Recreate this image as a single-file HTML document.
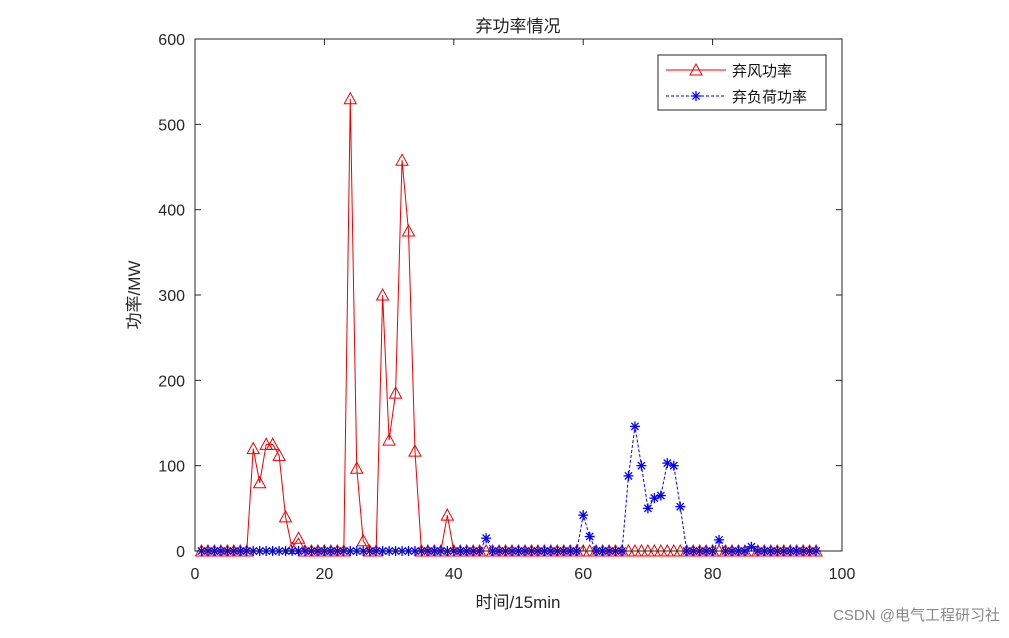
<!DOCTYPE html>
<html><head><meta charset="utf-8"><style>
body{margin:0;background:#fff}
svg text{font-family:"Liberation Sans","Noto Sans CJK SC",sans-serif}
</style></head><body>
<svg id="s" width="1009" height="633" xmlns="http://www.w3.org/2000/svg">
<rect width="1009" height="633" fill="#fff"/>
<g id="plot"></g>
<rect x="195" y="39" width="647" height="512" fill="none" stroke="#262626" stroke-width="1"/>
<g id="ticks" font-size="16" fill="#262626"></g>
<text x="518" y="32" font-size="17" text-anchor="middle" fill="#222">弃功率情况</text>
<text x="518" y="608" font-size="17" text-anchor="middle" fill="#262626">时间/15min</text>
<text transform="translate(140,295) rotate(-90)" font-size="17" text-anchor="middle" fill="#262626">功率/MW</text>
<rect x="658" y="55" width="168" height="55" fill="#fff" stroke="#262626"/>
<line x1="666" y1="70" x2="726" y2="70" stroke="#e00" stroke-width="1"/>
<polygon points="696,64 690,75 702,75" fill="none" stroke="#e00"/>
<text x="732" y="76" font-size="15" fill="#111">弃风功率</text>
<line x1="666" y1="96" x2="726" y2="96" stroke="#00f" stroke-dasharray="3,2"/>
<g id="lg"></g>
<text x="732" y="102" font-size="15" fill="#111">弃负荷功率</text>
<text x="1000" y="620" font-size="15" fill="#888" text-anchor="end">CSDN @电气工程研习社</text>
</svg>
<script>
const X=i=>195+6.47*i, Y=v=>551-v*0.8533;
const w={9:120,10:80,11:125,12:125,13:112,14:40,15:3,16:15,24:530,25:97,26:12,29:300,30:130,31:185,32:458,33:375,34:117,39:42};
const l={45:15,60:42,61:17,67:88,68:146,69:100,70:50,71:62,72:65,73:103,74:100,75:52,81:13,86:5};
const star=(x,y)=>`<g stroke="#00f" stroke-width="1.3"><line x1="${x-5}" y1="${y}" x2="${x+5}" y2="${y}"/><line x1="${x}" y1="${y-5}" x2="${x}" y2="${y+5}"/><line x1="${x-3.6}" y1="${y-3.6}" x2="${x+3.6}" y2="${y+3.6}"/><line x1="${x-3.6}" y1="${y+3.6}" x2="${x+3.6}" y2="${y-3.6}"/></g>`;
let h='';
let pw=[],pl=[];
for(let i=1;i<=96;i++){pw.push(X(i)+','+Y(w[i]||0));pl.push(X(i)+','+Y(l[i]||0));}
h+=`<polyline points="${pw.join(' ')}" fill="none" stroke="#e00" stroke-width="1"/>`;
for(let i=1;i<=96;i++){const x=X(i),y=Y(w[i]||0);h+=`<polygon points="${x},${y-6} ${x-6},${y+5} ${x+6},${y+5}" fill="none" stroke="#e00"/>`;}
h+=`<polyline points="${pl.join(' ')}" fill="none" stroke="#00f" stroke-width="1" stroke-dasharray="3,2"/>`;
for(let i=1;i<=96;i++){h+=star(X(i),Y(l[i]||0));}
document.getElementById('plot').innerHTML=h;
document.getElementById('lg').innerHTML=star(696,96);
let t='';
for(let v=0;v<=100;v+=20){const x=X(v);t+=`<line x1="${x}" y1="551" x2="${x}" y2="545" stroke="#262626"/><line x1="${x}" y1="39" x2="${x}" y2="45" stroke="#262626"/><text x="${x}" y="579" text-anchor="middle">${v}</text>`;}
for(let v=0;v<=600;v+=100){const y=Y(v);t+=`<line x1="195" y1="${y}" x2="201" y2="${y}" stroke="#262626"/><line x1="842" y1="${y}" x2="836" y2="${y}" stroke="#262626"/><text x="185" y="${y+6}" text-anchor="end">${v}</text>`;}
document.getElementById('ticks').innerHTML=t;
</script>
</body></html>
